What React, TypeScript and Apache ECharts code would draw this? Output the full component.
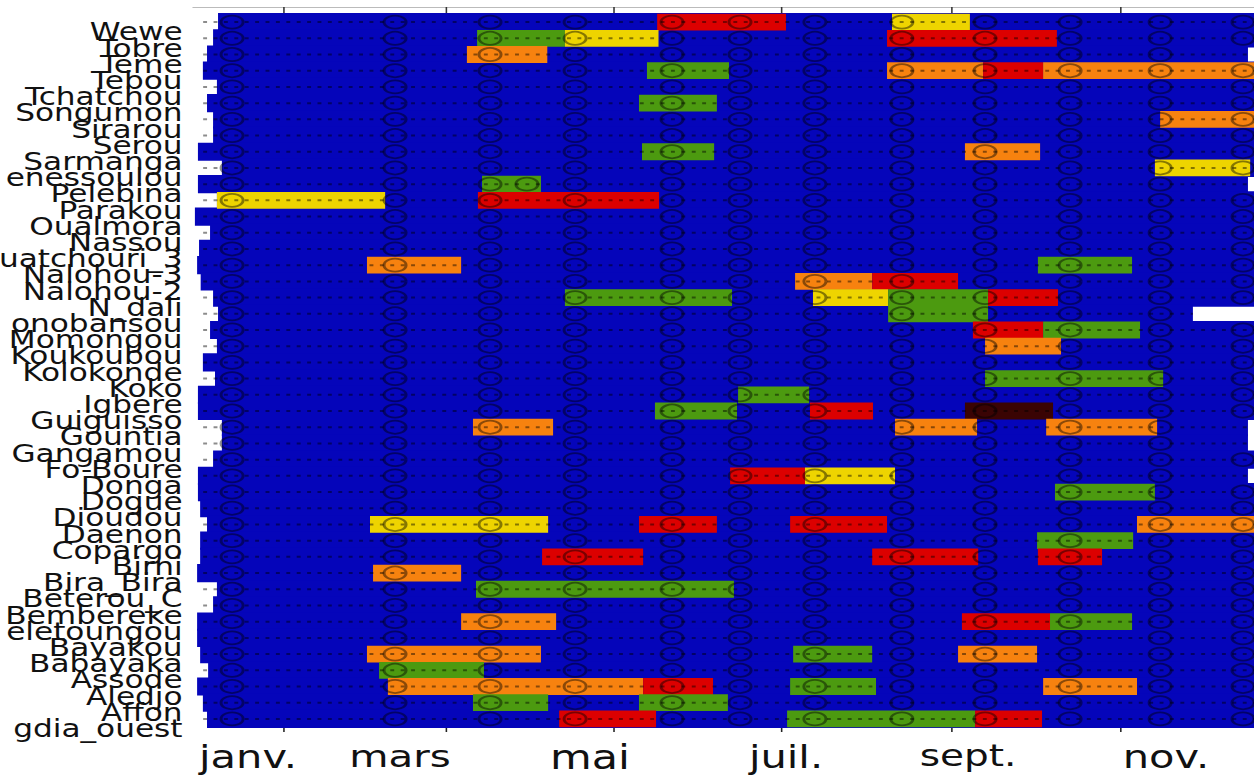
import React, { useEffect, useRef } from 'react';
import * as echarts from 'echarts';

// ---- data (x in days from 1 January) ----
const stations = [
  'Wewe', 'Tobre', 'Teme', 'Tebou', 'Tchatchou', 'Songumon', 'Sirarou', 'Serou', 'Sarmanga', 'enessoulou',
  'Pelebina', 'Parakou', 'Oualmora', 'Nassou', 'uatchouri_3', 'Nalohou-3', 'Nalohou-2', 'N_dali', 'onobansou',
  'Momongou', 'Koukoubou', 'Kolokonde', 'Koko', 'Igbere', 'Guiguisso', 'Gountia', 'Gangamou', 'Fo-Boure', 'Donga',
  'Dogue', 'Dioudou', 'Daenon', 'Copargo', 'Birni', 'Bira_Bira', 'Beterou_C', 'Bembereke', 'eletoungou', 'Bayakou',
  'Babayaka', 'Assode', 'Aledjo', 'Affon', 'gdia_ouest',
];

const rowStart = [
  -23.6, -25.4, -27.6, -29.1, -24.0, -27.6, -25.4, -25.4, -30.9, -22.2,
  -30.9, -24.0, -32.0, -26.5, -30.5, -31.2, -29.9, -25.4, -23.6, -26.5,
  -24.0, -29.1, -24.7, -30.9, -30.9, -22.2, -22.2, -25.4, -30.9, -30.9,
  -30.1, -27.6, -30.1, -30.1, -31.2, -24.0, -25.4, -31.2, -31.2, -30.1,
  -27.2, -31.2, -29.1, -27.6,
];

const rowEndShort: Record<string, number> = {
  Teme: 350.5, Pelebina: 350.5, onobansou: 330.5, Gountia: 350.5, Gangamou: 350.5, Donga: 350.5,
};

// [station, start, end, class]  G green, Y yellow, O orange, R red, D dark red
const segments: [string, number, number, string][] = [
  ['Wewe', 135.9, 182.7, 'R'], ['Wewe', 221.2, 249.5, 'Y'],
  ['Tobre', 70.5, 102.4, 'G'], ['Tobre', 102.4, 136.4, 'Y'], ['Tobre', 219.4, 281.1, 'R'],
  ['Teme', 66.8, 96.0, 'O'],
  ['Tebou', 132.2, 162.0, 'G'], ['Tebou', 219.4, 254.3, 'O'], ['Tebou', 254.3, 276.1, 'R'], ['Tebou', 276.1, 352.7, 'O'],
  ['Songumon', 129.3, 157.6, 'G'],
  ['Sirarou', 318.6, 352.7, 'O'],
  ['Sarmanga', 130.4, 156.6, 'G'], ['Sarmanga', 247.7, 275.0, 'O'],
  ['enessoulou', 316.7, 351.3, 'Y'],
  ['Pelebina', 72.3, 93.7, 'G'],
  ['Parakou', -24.0, 37.1, 'Y'], ['Parakou', 70.8, 136.6, 'R'],
  ['Nalohou-3', 30.5, 64.7, 'O'], ['Nalohou-3', 274.2, 308.4, 'G'],
  ['Nalohou-2', 186.0, 214.0, 'O'], ['Nalohou-2', 214.0, 245.2, 'R'],
  ['N_dali', 102.4, 163.1, 'G'], ['N_dali', 192.5, 219.8, 'Y'], ['N_dali', 219.8, 256.1, 'G'], ['N_dali', 256.1, 281.5, 'R'],
  ['onobansou', 219.8, 256.1, 'G'],
  ['Momongou', 250.6, 276.1, 'R'], ['Momongou', 276.1, 311.3, 'G'],
  ['Koukoubou', 255.0, 282.6, 'O'],
  ['Koko', 255.0, 319.7, 'G'],
  ['Igbere', 165.3, 191.1, 'G'],
  ['Guiguisso', 135.1, 164.9, 'G'], ['Guiguisso', 191.4, 214.3, 'R'], ['Guiguisso', 247.7, 279.7, 'D'],
  ['Gountia', 69.0, 98.1, 'O'], ['Gountia', 222.3, 252.1, 'O'], ['Gountia', 277.2, 317.5, 'O'],
  ['Donga', 162.4, 189.6, 'R'], ['Donga', 189.6, 222.3, 'Y'],
  ['Dogue', 280.4, 316.7, 'G'],
  ['Daenon', 31.6, 96.3, 'Y'], ['Daenon', 129.3, 157.6, 'R'], ['Daenon', 184.2, 219.4, 'R'], ['Daenon', 310.2, 352.7, 'O'],
  ['Copargo', 273.9, 308.8, 'G'],
  ['Birni', 94.1, 130.8, 'R'], ['Birni', 214.0, 252.5, 'R'], ['Birni', 274.2, 297.5, 'R'],
  ['Bira_Bira', 32.7, 64.7, 'O'],
  ['Beterou_C', 70.1, 163.8, 'G'],
  ['eletoungou', 64.7, 99.2, 'O'], ['eletoungou', 246.6, 278.6, 'R'], ['eletoungou', 278.6, 308.4, 'G'],
  ['Babayaka', 30.5, 93.7, 'O'], ['Babayaka', 185.3, 214.0, 'G'], ['Babayaka', 245.2, 273.9, 'O'],
  ['Assode', 34.9, 73.0, 'G'],
  ['Aledjo', 38.1, 130.8, 'O'], ['Aledjo', 130.8, 156.2, 'R'], ['Aledjo', 184.2, 215.4, 'G'], ['Aledjo', 276.1, 310.2, 'O'],
  ['Affon', 69.0, 96.3, 'G'], ['Affon', 129.3, 161.6, 'G'],
  ['gdia_ouest', 100.3, 135.5, 'R'], ['gdia_ouest', 183.1, 251.4, 'G'], ['gdia_ouest', 251.4, 275.7, 'R'],
];

const circleDays = [-18.5, 40.7, 75.2, 106.1, 141.3, 166.0, 193.2, 224.8, 255.0, 285.9, 318.6, 348.7];
const extraCircles: [string, number][] = [['Pelebina', 88.6]];

const monthTickDays = [0, 59, 120, 181, 243, 304];
const monthLabelDays = [-12.7, 42.5, 111.5, 182.7, 248.8, 320.7];
const monthLabels = ['janv.', 'mars', 'mai', 'juil.', 'sept.', 'nov.'];

// ---- styles ----
const X_MIN = -32.7;
const X_MAX = 352.7;
const LINE_START = -29;
const STRETCH = 1.2995;
const BLUE = '#0505ba';
const COLORS: Record<string, string> = { G: '#4c9a10', Y: '#eed400', O: '#f7820f', R: '#dc0000', D: '#3a0404' };
const X_LABEL_SIZE: Record<string, number> = { 'janv.': 32, mars: 31, mai: 33, 'juil.': 32, 'sept.': 30, 'nov.': 32 };
const FONT = 'DejaVu Sans';

export default function App() {
  const ref = useRef<HTMLDivElement>(null);

  useEffect(() => {
    if (!ref.current) return;
    const chart = echarts.init(ref.current, null, { renderer: 'svg' });

    const rowEnd = (i: number) => (rowEndShort[stations[i]] !== undefined ? rowEndShort[stations[i]] : X_MAX);

    const bgData = stations.map((_, i) => [rowStart[i], rowEnd(i), i]);
    const segData = segments.map(([n, s, e]) => [s, e, stations.indexOf(n)]);
    const lineData = stations.map((_, i) => [LINE_START, rowEnd(i), i]);
    const circleData: number[][] = [];
    stations.forEach((n, i) => {
      circleDays.forEach((d) => {
        if (d >= rowStart[i] && d + 2 <= rowEnd(i)) circleData.push([d, i]);
      });
    });
    extraCircles.forEach(([n, d]) => circleData.push([d, stations.indexOf(n)]));

    const rectItem = (fill: (idx: number) => string, pad: number) => (params: any, api: any) => {
      const a = api.coord([api.value(0), api.value(2)]);
      const b = api.coord([api.value(1), api.value(2)]);
      const h = api.size([0, 1])[1];
      return {
        type: 'rect',
        shape: { x: a[0], y: a[1] - h / 2 - pad, width: b[0] - a[0], height: h + 2 * pad },
        style: { fill: fill(params.dataIndex) },
      };
    };

    const monthRich: Record<string, any> = {};
    monthLabels.forEach((m, i) => {
      monthRich['m' + i] = { fontSize: X_LABEL_SIZE[m], fontFamily: FONT, color: '#111' };
    });

    chart.setOption({
      animation: false,
      grid: { left: 148.5, right: 0, top: 14, bottom: 51, containLabel: false, outerBoundsMode: 'none' },
      xAxis: [
        {
          type: 'value', min: X_MIN, max: X_MAX, position: 'bottom',
          axisLine: { show: false },
          splitLine: { show: false },
          axisTick: { show: true, customValues: monthTickDays, length: 5, lineStyle: { color: '#222', width: 1.2 } },
          axisLabel: {
            show: true,
            customValues: monthLabelDays,
            margin: 14,
            formatter: (v: number) => {
              const i = monthLabelDays.findIndex((d) => Math.abs(d - v) < 0.5);
              return i < 0 ? '' : `{m${i}|${monthLabels[i]}}`;
            },
            rich: monthRich,
            fontFamily: FONT,
            color: '#111',
          },
        },
        {
          type: 'value', min: X_MIN, max: X_MAX, position: 'top', offset: 7,
          axisLine: { show: true, lineStyle: { color: '#bbbbbb', width: 1 } },
          splitLine: { show: false },
          axisTick: { show: true, inside: true, customValues: monthTickDays, length: 7, lineStyle: { color: '#333', width: 1.2 } },
          axisLabel: { show: false },
        },
      ],
      yAxis: {
        type: 'category',
        data: stations,
        inverse: true,
        axisLine: { show: true, lineStyle: { color: '#333', width: 1.2 } },
        axisTick: { show: true, inside: true, alignWithLabel: true, length: 4, lineStyle: { color: '#333' } },
        axisLabel: {
          interval: 0, margin: 8, fontSize: 24, fontFamily: FONT, color: '#111',
          verticalAlign: 'top', lineHeight: 20,
        },
        splitLine: { show: false },
      },
      series: [
        {
          type: 'custom', name: 'période', xAxisIndex: 0, data: bgData, encode: { x: [0, 1], y: 2 },
          renderItem: rectItem(() => BLUE, 1), z: 1,
        },
        {
          type: 'custom', name: 'classes', xAxisIndex: 0, data: segData, encode: { x: [0, 1], y: 2 },
          renderItem: rectItem((idx) => COLORS[segments[idx][3]], 0.3), z: 2,
        },
        {
          type: 'custom', name: 'pas', xAxisIndex: 0, data: lineData, encode: { x: [0, 1], y: 2 }, z: 3,
          renderItem: (params: any, api: any) => {
            const a = api.coord([api.value(0), api.value(2)]);
            const b = api.coord([api.value(1), api.value(2)]);
            return {
              type: 'line',
              shape: { x1: a[0], y1: a[1], x2: b[0], y2: b[1] },
              style: { stroke: 'rgba(0,0,0,0.45)', lineWidth: 2, lineDash: [3, 5] },
            };
          },
        },
        {
          type: 'scatter', name: 'mois', xAxisIndex: 0, data: circleData, z: 4,
          symbol: 'circle', symbolSize: [17, 13],
          itemStyle: { color: 'rgba(0,0,0,0)', borderColor: 'rgba(0,0,0,0.55)', borderWidth: 2 },
          emphasis: { disabled: true },
        },
      ],
    });

    return () => chart.dispose();
  }, []);

  return (
    <div
      ref={ref}
      style={{
        position: 'absolute', left: 0, top: 0, width: 965, height: 778,
        transform: `scaleX(${STRETCH})`, transformOrigin: '0 0',
      }}
    />
  );
}
